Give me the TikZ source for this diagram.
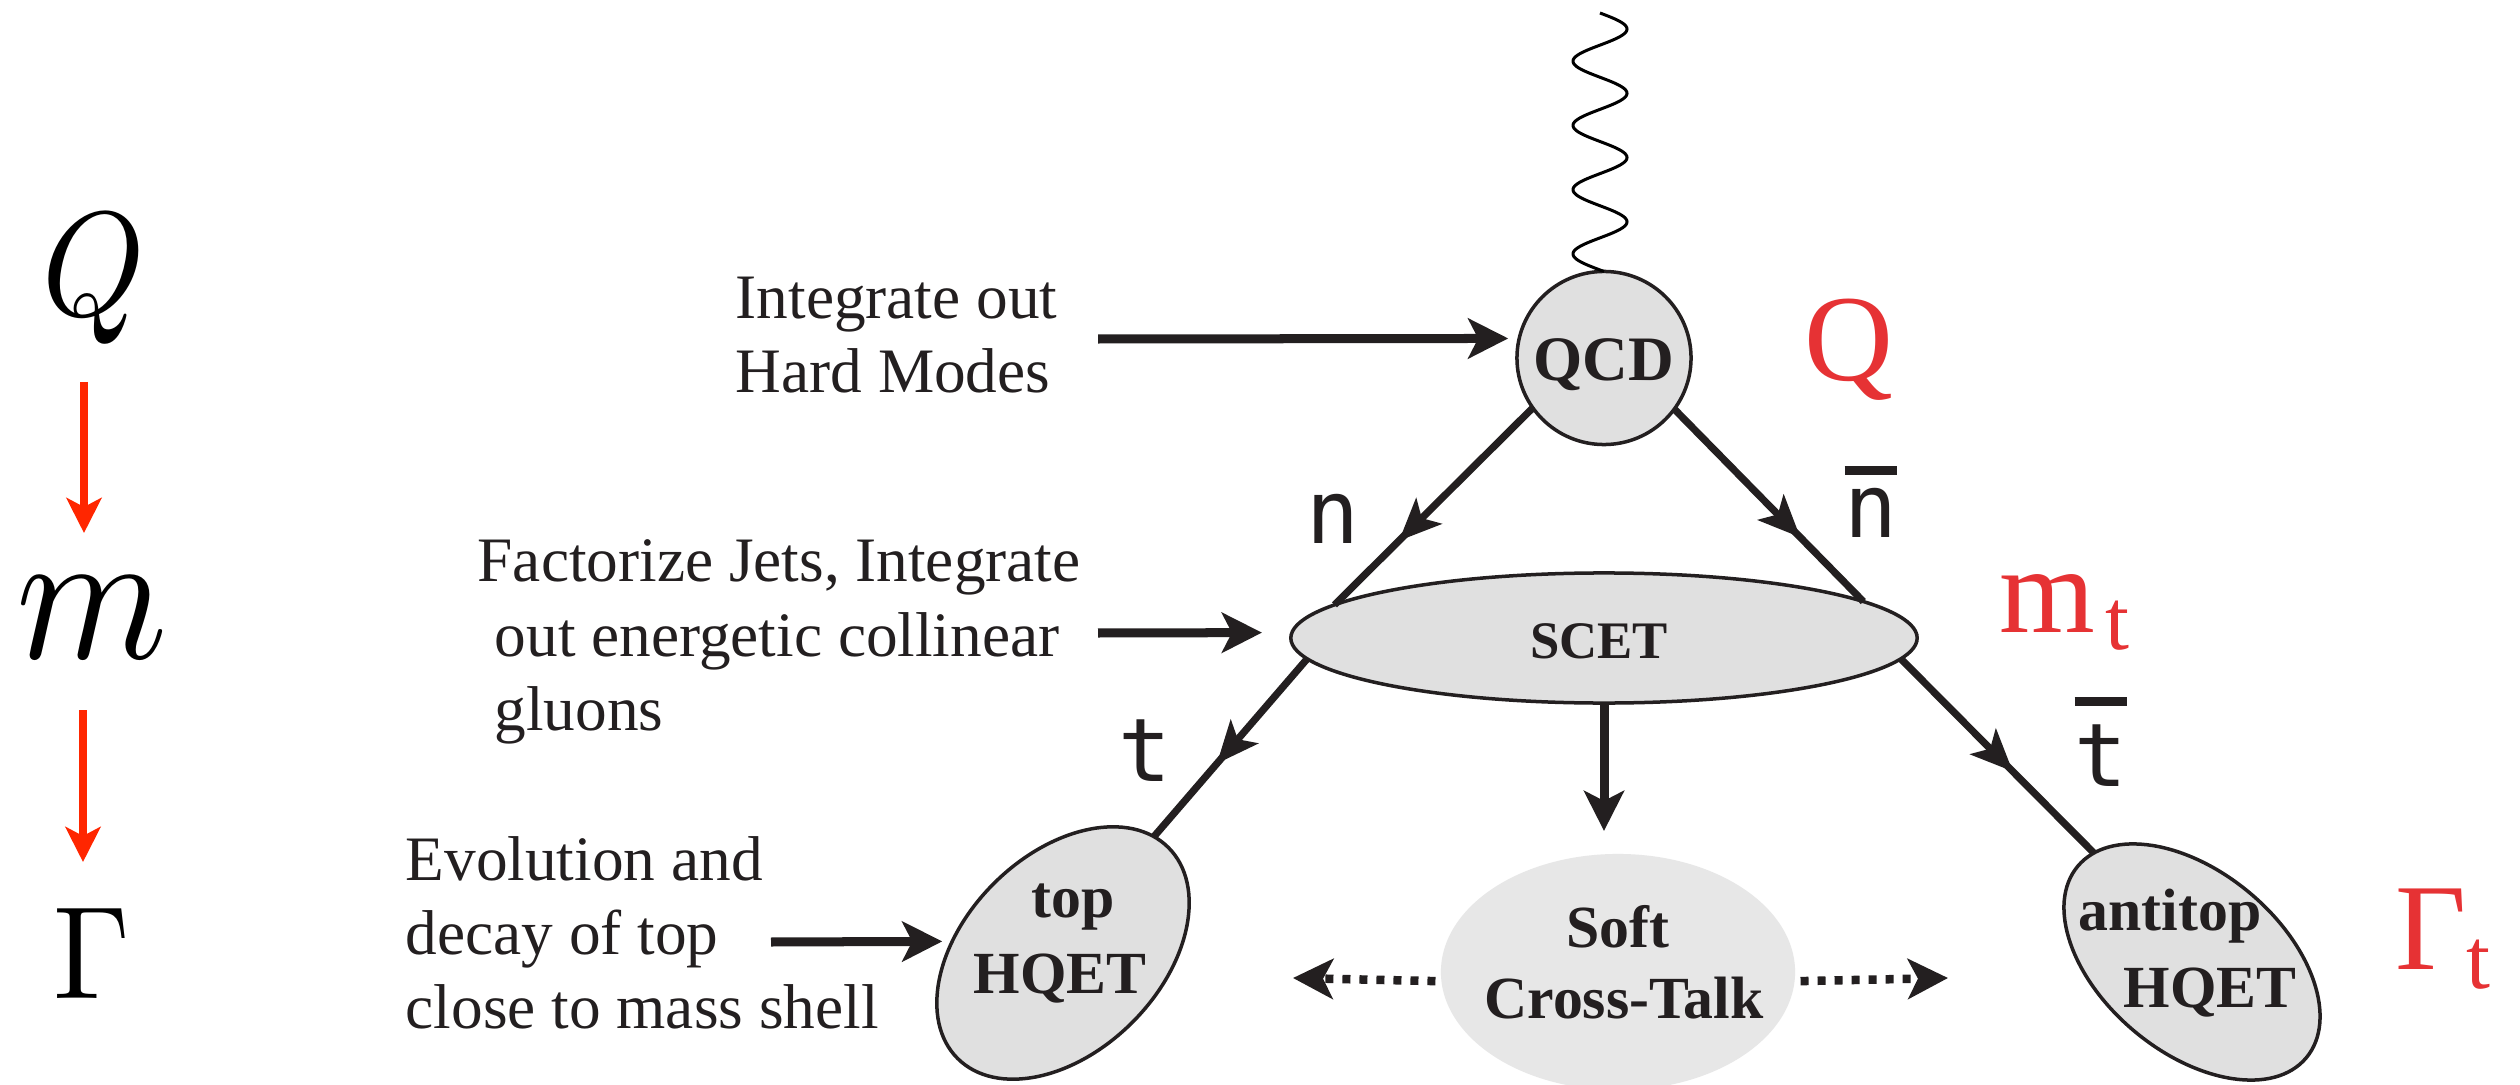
\documentclass[tikz,border=0pt]{standalone}
\usepackage{fontspec}
\setmainfont{Liberation Serif}
\newfontfamily\monolabel{DejaVu Sans Mono}
\usetikzlibrary{arrows.meta,shapes.geometric,decorations.markings}

\definecolor{ink}{RGB}{35,31,32}
\definecolor{scalered}{RGB}{230,50,52}
\definecolor{flowred}{RGB}{255,38,0}
\definecolor{blobgray}{RGB}{224,224,224}
\definecolor{softgray}{RGB}{231,231,231}

% a letter with a heavy bar over it; #1 = gap between bar and letter
\newcommand{\heavybar}[2]{\setbox0\hbox{#2}\vbox{\hrule height 0.09cm\kern#1\box0}}

\begin{document}
\begin{tikzpicture}[x=0.01cm, y=-0.01cm,
  blob/.style={ellipse, draw=ink, line width=0.035cm, fill=blobgray, inner sep=0pt, outer sep=0pt},
  blobtext/.style={text=ink, inner sep=0pt, anchor=base, font=\fontsize{17}{20}\selectfont\bfseries},
  note/.style={text=ink, inner sep=0pt, anchor=base west, font=\fontsize{18}{21}\selectfont},
  scalelabel/.style={text=scalered, inner sep=0pt, anchor=base west, font=\fontsize{35}{40}\selectfont},
  dirlabel/.style={text=ink, inner sep=0pt, anchor=base, font=\fontsize{25}{28}\selectfont\monolabel},
  mathsym/.style={inner sep=0pt, anchor=base},
  headtip/.style={-{Stealth[length=0.4cm, width=0.4cm, inset=0.1cm]}},
  arr/.style={draw=ink, line width=0.09cm, headtip},
  dotarr/.style={draw=ink, line width=0.085cm, dash pattern=on 0.08cm off 0.09cm, headtip},
  redarr/.style={draw=flowred, line width=0.08cm, -{Stealth[length=0.35cm, width=0.35cm, inset=0.09cm]}},
  leg/.style={draw=ink, line width=0.072cm},
  wave/.style={draw=black, line width=0.03cm, line join=round},
  midhead/.style={postaction={decorate, decoration={markings,
      mark=at position #1 with {\arrow[ink]{Stealth[length=0.42cm, width=0.36cm, inset=0.1cm]}}}}},
]
\useasboundingbox[fill=white] (0,0) rectangle (2520,1085);

% scale hierarchy on the left
\node[mathsym, xscale=3.7, yscale=4.22] (symQ) at (94,316) {$Q$};
\node[mathsym, xscale=4.9, yscale=5.39] (symm) at (92,658) {$m$};
\node[mathsym, xscale=3.5, yscale=3.75] (symG) at (92,998) {$\Gamma$};
\coordinate (r1a) at (84,382); \coordinate (r1b) at (84,533);
\coordinate (r2a) at (83,710); \coordinate (r2b) at (83,862);
\draw[redarr] (r1a) -- (r1b);
\draw[redarr] (r2a) -- (r2b);

% effective theories
\node[blob, minimum width=1.74cm, minimum height=1.73cm] (qcd) at (1604,358) {};
\node[blob, minimum width=6.26cm, minimum height=1.30cm] (scet) at (1604,638) {};
\node[blob, minimum width=2.98cm, minimum height=1.96cm, rotate=45] (topq) at (1063,953) {};
\node[blob, minimum width=2.98cm, minimum height=1.80cm, rotate=-40] (atop) at (2192,962) {};
\node[ellipse, fill=softgray, minimum width=3.54cm, minimum height=2.36cm, inner sep=0pt, outer sep=0pt] (soft) at (1618,972) {};

\node[blobtext, font=\fontsize{18}{21}\selectfont\bfseries] (qcdtext) at (1604,380) {QCD};
\node[blobtext, font=\fontsize{15}{18}\selectfont\bfseries] (scettext) at (1599,658) {SCET};
\node[blobtext] (toptext) at (1073,917) {top};
\node[blobtext] (tophq) at (1060,993) {HQET};
\node[blobtext] (atoptext) at (2170,930) {antitop};
\node[blobtext] (atophq) at (2210,1007) {HQET};
\node[blobtext] (softtext) at (1618,947) {Soft};
\node[blobtext] (crosstext) at (1624,1018) {Cross-Talk};

% incoming photon: four full periods down to the QCD blob
\coordinate (photon) at (1600,13);
\draw[wave] (photon) -- plot[domain=0:1440, samples=289] ({1600+27*sin(\x)}, {13+\x/1440*257}) -- (qcd.north);

% jet lines
\draw[leg, midhead=0.675] (qcd.215) -- (scet.173);
\draw[leg, midhead=0.668] (qcd.324) -- (scet.8);
\draw[leg, midhead=0.59] (scet.184) -- (topq.7);
\draw[leg, midhead=0.58] (scet.356) -- (atop.172);

\node[dirlabel] (nlab) at (1333,543) {n};
\node[dirlabel] (nbarlab) at (1871,537) {\heavybar{0.13cm}{n}};
\node[dirlabel] (tlab) at (1145,781) {t};
\node[dirlabel] (tbarlab) at (2101,786) {\heavybar{0.18cm}{t}};

% scales
\node[scalelabel] (redQ) at (1804,380) {Q};
\node[scalelabel] (redm) at (1999,632) {m\kern0.1cm\raisebox{-0.17cm}{\fontsize{24.5}{26}\selectfont t}};
\node[scalelabel] (redG) at (2395,969) {Γ\raisebox{-0.19cm}{\fontsize{24.5}{26}\selectfont t}};

% explanations
\node[note] (hard1) at (735,319) {Integrate out};
\node[note] (hard2) at (735,393) {Hard Modes};
\node[note] (jet1) at (477,581) {Factorize Jets, Integrate};
\node[note] (jet2) at (494,656) {out energetic collinear};
\node[note] (jet3) at (494,730) {gluons};
\node[note] (evo1) at (405,880) {Evolution and};
\node[note] (evo2) at (405,954) {decay of top};
\node[note] (evo3) at (405,1028) {close to mass shell};

\coordinate (hardtail) at (1098,339);
\coordinate (jettail) at (1098,633);
\coordinate (evotail) at (771,942);
\draw[arr, shorten >=0.11cm] (hardtail) -- (qcd.167);
\draw[arr, shorten >=0.3cm] (jettail) -- (scet.179);
\draw[arr, shorten >=0.1cm] (evotail) -- (topq.129);

% soft radiation
\draw[arr, shorten >=0.23cm] (scet.south) -- (scet.south |- soft.north);
\coordinate (talkleft) at (1293,978);
\coordinate (talkright) at (1948,978);
\draw[dotarr, shorten <=0.06cm] (soft.183) -- (talkleft);
\draw[dotarr, shorten <=0.06cm] (soft.357) -- (talkright);
\end{tikzpicture}
\end{document}
